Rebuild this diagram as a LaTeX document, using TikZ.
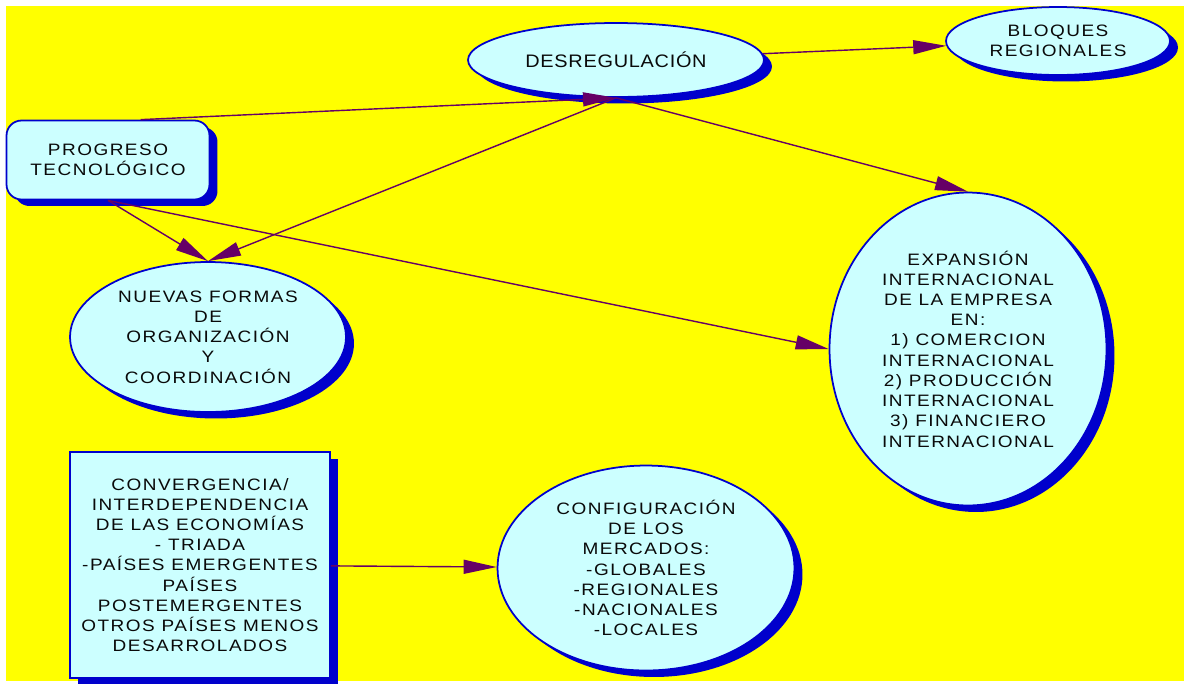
\documentclass[tikz,border=0pt]{standalone}
\usepackage{fontspec}
\setmainfont{Liberation Sans}
\newfontfamily\widefont[FakeStretch=1.15, LetterSpace=9]{Liberation Sans}
\newfontfamily\desfont[FakeStretch=1.1, LetterSpace=4]{Liberation Sans}
\usetikzlibrary{shapes.geometric, shadows, arrows.meta}
\definecolor{fondo}{HTML}{FFFF00}
\definecolor{relleno}{HTML}{CCFFFF}
\definecolor{borde}{HTML}{0000CC}
\definecolor{flecha}{HTML}{660066}
\definecolor{texto}{HTML}{0A0A0A}
\tikzset{
  caja/.style={draw=borde, line width=1pt, fill=relleno, text=texto, align=center, inner sep=0pt,
    font={\widefont\fontsize{9.4}{11.5}\selectfont},
    drop shadow={shadow xshift=0.16cm, shadow yshift=-0.13cm, fill=borde, opacity=1}},
  elipse/.style={caja, ellipse}
}

\begin{document}
\begin{tikzpicture}[x=0.02cm, y=-0.02cm, >={Triangle[length=0.66cm, width=0.28cm]}, every path/.append style={line width=0.8pt}]
            \useasboundingbox (0,0) rectangle (1189,684);
            \fill [white] (0,0) rectangle (1189,684);
            \fill [fondo] (6,6) rectangle (1184,681);

            \node (D) at (616, 60) [elipse, minimum width=5.92cm, minimum height=1.48cm, font={\desfont\fontsize{10.3}{12}\selectfont}] {DESREGULACIÓN};
            \node (B) at (1058, 41) [elipse, minimum width=4.48cm, minimum height=1.36cm] {BLOQUES\\REGIONALES};
            \node (P) at (108, 160) [caja, rounded corners=0.3cm, minimum width=4.06cm, minimum height=1.58cm] {PROGRESO\\TECNOLÓGICO};
            \node (N) at (208, 337) [elipse, minimum width=5.52cm, minimum height=3cm] {NUEVAS FORMAS\\DE\\ORGANIZACIÓN\\Y\\COORDINACIÓN};
            \node (E) at (968, 349) [elipse, minimum width=5.54cm, minimum height=6.26cm] {EXPANSIÓN\\INTERNACIONAL\\DE LA EMPRESA\\EN:\\1) COMERCION\\INTERNACIONAL\\2) PRODUCCIÓN\\INTERNACIONAL\\3) FINANCIERO\\INTERNACIONAL};
            \node (C) at (200, 565) [caja, minimum width=5.2cm, minimum height=4.52cm] {CONVERGENCIA/\\INTERDEPENDENCIA\\DE LAS ECONOMÍAS\\- TRIADA\\-PAÍSES EMERGENTES\\PAÍSES\\POSTEMERGENTES\\OTROS PAÍSES MENOS\\DESARROLADOS};
            \node (M) at (646, 568) [elipse, minimum width=5.94cm, minimum height=4.1cm] {CONFIGURACIÓN\\DE LOS\\MERCADOS:\\-GLOBALES\\-REGIONALES\\-NACIONALES\\-LOCALES};

            \draw [->, flecha] (D) -- (B);
            \draw [->, flecha] (P.51) -- (D.south);
            \draw [->, flecha] (D.south) -- (N.north);
            \draw [->, flecha] (D.south) -- (E.north);
            \draw [->, flecha] (P.south) -- (N.north);
            \draw [->, flecha] (P.south) -- (E.west);
            \draw [->, flecha] (C) -- (M);
        \end{tikzpicture}
\end{document}
